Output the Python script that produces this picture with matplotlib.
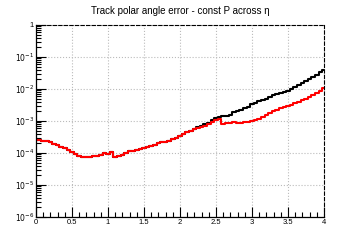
import numpy as np
import matplotlib
matplotlib.use('Agg')
import matplotlib.pyplot as plt
from matplotlib.ticker import FixedLocator, FixedFormatter, MultipleLocator, LogLocator, NullFormatter

plt.rcParams['font.family'] = ['Liberation Sans', 'DejaVu Sans']

# eta values (bin centres) and log10 of the error
eta = [0.0, 0.05, 0.1, 0.15, 0.2, 0.25, 0.3, 0.35, 0.4, 0.45,
       0.5, 0.55, 0.6, 0.65, 0.7, 0.75, 0.8, 0.85, 0.9, 0.95,
       1.0, 1.05, 1.1, 1.15, 1.2, 1.25, 1.3, 1.35, 1.4, 1.45,
       1.5, 1.55, 1.6, 1.65, 1.7, 1.75, 1.8, 1.85, 1.9, 1.95,
       2.0, 2.05, 2.1, 2.15, 2.2, 2.25, 2.3, 2.35, 2.4, 2.45,
       2.5, 2.55, 2.6, 2.65, 2.7, 2.75, 2.8, 2.85, 2.9, 2.95,
       3.0, 3.05, 3.1, 3.15, 3.2, 3.25, 3.3, 3.35, 3.4, 3.45,
       3.5, 3.55, 3.6, 3.65, 3.7, 3.75, 3.8, 3.85, 3.9, 3.95, 4.0]

red_log = [-3.59, -3.61, -3.63, -3.63, -3.66, -3.71, -3.75, -3.80, -3.85, -3.90,
           -3.96, -4.02, -4.08, -4.12, -4.13, -4.13, -4.11, -4.08, -4.05, -4.00,
           -4.02, -3.97, -4.14, -4.09, -4.05, -4.00, -3.95, -3.93, -3.91, -3.89,
           -3.86, -3.82, -3.79, -3.76, -3.68, -3.66, -3.66, -3.62, -3.56, -3.52,
           -3.48, -3.42, -3.34, -3.30, -3.26, -3.21, -3.18, -3.16, -3.10, -3.03,
           -2.98, -2.95, -3.08, -3.07, -3.05, -3.03, -3.06, -3.05, -3.04, -3.03,
           -3.00, -2.97, -2.93, -2.88, -2.82, -2.76, -2.70, -2.65, -2.60, -2.56,
           -2.52, -2.49, -2.45, -2.40, -2.35, -2.30, -2.24, -2.19, -2.13, -2.05, -1.96]

black_log = [-3.59, -3.61, -3.63, -3.63, -3.66, -3.71, -3.75, -3.80, -3.85, -3.90,
             -3.96, -4.02, -4.08, -4.12, -4.13, -4.13, -4.11, -4.08, -4.05, -4.00,
             -4.02, -3.97, -4.14, -4.09, -4.05, -4.00, -3.95, -3.93, -3.91, -3.89,
             -3.86, -3.82, -3.79, -3.76, -3.68, -3.66, -3.66, -3.62, -3.56, -3.52,
             -3.48, -3.42, -3.34, -3.30, -3.26, -3.20, -3.15, -3.10, -3.07, -2.98,
             -2.90, -2.88, -2.86, -2.84, -2.80, -2.72, -2.69, -2.65, -2.60, -2.55,
             -2.47, -2.43, -2.38, -2.35, -2.31, -2.24, -2.20, -2.16, -2.12, -2.08,
             -2.05, -2.00, -1.94, -1.88, -1.82, -1.75, -1.69, -1.62, -1.55, -1.48, -1.40]

y_ticks = [1e-6, 1e-5, 1e-4, 1e-3, 1e-2, 1e-1, 1]
y_labels = ['$10^{-6}$', '$10^{-5}$', '$10^{-4}$', '$10^{-3}$', '$10^{-2}$', '$10^{-1}$', '1']
x_ticks = [0, 0.5, 1, 1.5, 2, 2.5, 3, 3.5, 4]
x_labels = ['0', '0.5', '1', '1.5', '2', '2.5', '3', '3.5', '4']

fig = plt.figure(figsize=(3.6, 2.4), dpi=100)
ax = fig.add_axes([0.1, 0.096, 0.8, 0.8])

x = np.array(eta)
ax.plot(x, 10 ** np.array(black_log), color='black', lw=1.5, drawstyle='steps-mid')
ax.plot(x, 10 ** np.array(red_log), color='red', lw=1.5, drawstyle='steps-mid')

ax.set_yscale('log')
ax.set_xlim(0, 4)
ax.set_ylim(1e-6, 1)

ax.xaxis.set_major_locator(FixedLocator(x_ticks))
ax.xaxis.set_major_formatter(FixedFormatter(x_labels))
ax.xaxis.set_minor_locator(MultipleLocator(0.1))
ax.yaxis.set_major_locator(FixedLocator(y_ticks))
ax.yaxis.set_major_formatter(FixedFormatter(y_labels))
ax.yaxis.set_minor_locator(LogLocator(base=10, subs=np.arange(2, 10), numticks=20))
ax.yaxis.set_minor_formatter(NullFormatter())

ax.tick_params(which='both', direction='in', top=False, right=False, labelsize=5.5, pad=1.5, width=0.8)
ax.tick_params(which='major', length=7)
ax.tick_params(which='minor', length=3.5)

ax.grid(True, which='major', color='#bbbbbb', linestyle=':', linewidth=0.8)

for side in ['top', 'right']:
    ax.spines[side].set_linestyle((0, (3, 2)))
    ax.spines[side].set_linewidth(0.8)
for side in ['left', 'bottom']:
    ax.spines[side].set_linewidth(0.9)

fig.text(0.5, 0.955, 'Track polar angle error - const P across \u03b7', ha='center', va='center', fontsize=7)

fig.savefig('out.png', dpi=100)
